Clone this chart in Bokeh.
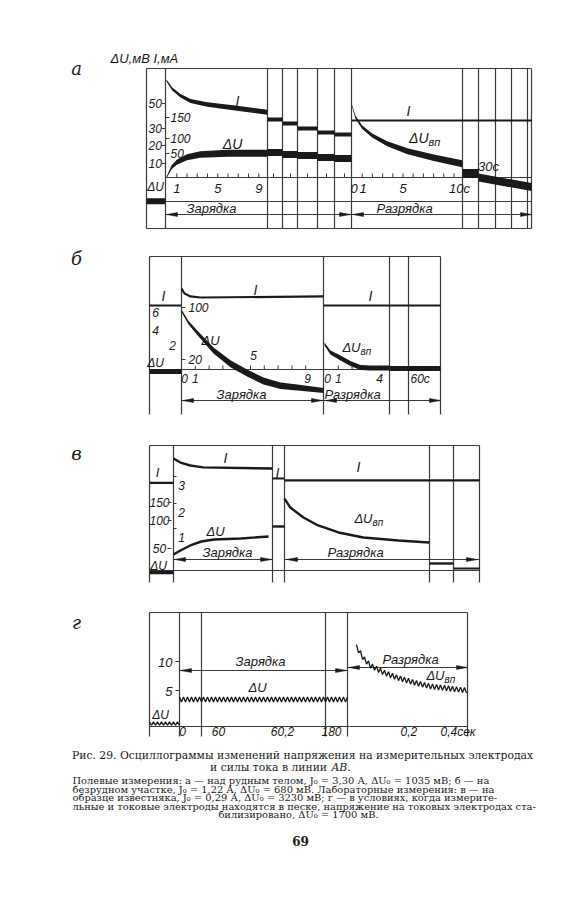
import numpy as np
from bokeh.plotting import figure
from bokeh.models import Range1d
from bokeh.core.properties import value
from bokeh.embed import file_html
from bokeh.resources import INLINE

# ================= DATA =================
# --- panel а : over the ore body ---
a_dU_ticks = [10, 20, 30, 50]            # mV (left scale)
a_I_ticks = [50, 100, 150]               # mA (second scale)
a_chg_tick_labels = [1, 5, 9]            # s
a_chg_timing = [1, 2, 3, 4, 5, 6, 7, 8, 9]
a_dis_timing = [1, 2, 3, 4, 5, 6, 7, 8, 9, 10]
a_chg_dU_t = [0, 0.5, 1.0, 2.0, 3.3, 6.0, 9.85]
a_chg_dU = [0, 7.4, 10.7, 13.5, 15.0, 15.7, 15.7]
a_chg_I_t = [0, 0.56, 1.37, 2.34, 3.97, 6.5, 9.85]
a_chg_I = [238, 218, 202, 189, 181, 173, 162.6]
a_brk_I = [145.2, 135.7, 123.8, 114.3, 109.5]
a_brk_dU = [16.1, 15.0, 14.4, 13.3, 12.8]
a_dis_t = [0, 0.34, 1.0, 1.98, 3.45, 5.44, 8.02, 10.8]
a_dis_dU = [48.4, 39.0, 31.0, 25.9, 21.0, 16.8, 13.2, 9.8]
a_dis_I = 142.9
a_gap_dU = 2.9
a_tail_t = [30, 35.2]
a_tail_dU = [0.0, -6.8]
a_ref_dU = -17.0

# --- panel б : barren section ---
b_dU_ticks = [2, 4, 6]
b_I_ticks = [20, 100]
b_chg_timing = [1, 2, 3, 4, 5, 6, 7, 8, 9]
b_dis_timing = [1, 2, 3, 4]
b_chg_dU_t = [0, 0.5, 1.16, 2.32, 3.55, 4.78, 5.94, 7.17, 8.4, 10.3]
b_chg_dU = [6.1, 4.7, 3.6, 2.0, 0.6, -0.4, -1.2, -1.7, -1.9, -2.2]
b_chg_I_t = [0, 0.22, 0.65, 1.37, 10.3]
b_chg_I = [129, 121.5, 117, 115.4, 117]
b_ref_I = 103
b_ref_dU = -0.2
b_dis_t = [0, 0.43, 1.16, 1.88, 2.6, 3.33, 4.71]
b_dis_dU = [2.6, 1.8, 1.2, 0.63, 0.2, 0.15, 0.15]
b_late_dU = 0.1
b_dis_I = 103

# --- panel в : limestone sample (sweep fraction 0..1) ---
c_dU_ticks = [50, 100, 150]
c_I_ticks = [1, 2, 3]
c_chg_t = [0, 0.07, 0.17, 0.28, 0.41, 0.68, 0.96]
c_chg_dU = [37.5, 45.8, 55.4, 62.5, 66.1, 67.9, 71.4]
c_chg_I_t = [0, 0.07, 0.17, 0.30, 1.0]
c_chg_I = [4.0, 3.85, 3.74, 3.67, 3.63]
c_ref_I = 3.1
c_ref_dU = 0
c_mid_I = 3.26
c_mid_dU = 89.3
c_dis_t = [0, 0.04, 0.13, 0.23, 0.37, 0.54, 0.78, 0.99]
c_dis_dU = [161, 136, 108.3, 91.1, 78.6, 69.6, 64.3, 60.7]
c_dis_I = 3.19
c_late_dU = [18.8, 8.3]

# --- panel г : electrodes in sand ---
g_dU_ticks = [5, 10]
g_time_labels = ["0", "60", "60,2", "180"]
g_dis_labels = [0.2, 0.4]
g_pre_dU = -0.7
g_pre_amp = 0.3
g_chg_dU = 3.45
g_chg_amp = 0.45
g_dis_t = [0, 0.02, 0.035, 0.07, 0.135, 0.205, 0.285, 0.37, 0.555]
g_dis_dU = [12.47, 11.4, 10.5, 9.3, 8.1, 7.2, 6.4, 5.7, 5.0]
g_dis_amp = 0.45
g_ripple_T = 0.02   # s (50 Hz ripple)

caption1 = "Рис. 29. Осциллограммы изменений напряжения на измерительных электродах"
caption2 = "и силы тока в линии "
caption2_it = "AB."
notes = [
    "Полевые измерения: а — над рудным телом, J₀ = 3,30 А, ΔU₀ = 1035 мВ; б — на",
    "безрудном участке, J₀ = 1,22 А, ΔU₀ = 680 мВ. Лабораторные измерения: в — на",
    "образце известняка, J₀ = 0,29 А, ΔU₀ = 3230 мВ; г — в условиях, когда измерите-",
    "льные и токовые электроды находятся в песке, напряжение на токовых электродах ста-",
]
note_last = "билизировано, ΔU₀ = 1700 мВ."
page_no = "69"

# ================= LAYOUT / STYLE =================
INK = "#1a1a1a"
LINE = "#3a3a3a"
LBL = "Liberation Sans Narrow, Liberation Sans, DejaVu Sans, sans-serif"
SERIF = "DejaVu Serif, Liberation Serif, serif"

p = figure(width=569, height=888, x_range=Range1d(0, 569), y_range=Range1d(888, 0),
           output_backend="svg", toolbar_location=None, min_border=0,
           background_fill_color="white", border_fill_color="white")
p.axis.visible = False
p.grid.visible = False
p.outline_line_color = None


def pmap(v, vals, pix):
    v = np.atleast_1d(np.asarray(v, float))
    vals = np.asarray(vals, float)
    pix = np.asarray(pix, float)
    out = np.interp(v, vals, pix)
    s0 = (pix[1] - pix[0]) / (vals[1] - vals[0])
    s1 = (pix[-1] - pix[-2]) / (vals[-1] - vals[-2])
    lo, hi = v < vals[0], v > vals[-1]
    out[lo] = pix[0] + (v[lo] - vals[0]) * s0
    out[hi] = pix[-1] + (v[hi] - vals[-1]) * s1
    return out


def band(xs, ys, w):
    xs = np.asarray(xs, float)
    ys = np.asarray(ys, float)
    w = np.asarray(w, float) * np.ones_like(ys)
    p.varea(x=xs, y1=ys - w / 2, y2=ys + w / 2, fill_color=INK)


def txt(x, y, s, size=13, align="center", font=LBL, style="italic", color=INK, baseline="middle"):
    p.text(x=[x], y=[y], text=[s], text_font=value(font), text_font_size=f"{size}px",
           text_font_style=style, text_align=align, text_baseline=baseline, text_color=color)


def sub_label(x, y, main, sub, size=13):
    txt(x, y, main, size=size, align="right")
    txt(x, y + 4, sub, size=size - 3, align="left")


def frame(left, right, top, bottom, verticals, hlines, lw=1.2):
    x0 = [left, left, right] + list(verticals)
    y0 = [top, top, top] + [top] * len(verticals)
    x1 = [right, left, right] + list(verticals)
    y1 = [top, bottom, bottom] + [bottom] * len(verticals)
    for (xa, xb, yy) in hlines:
        x0.append(xa); x1.append(xb); y0.append(yy); y1.append(yy)
    p.segment(x0=x0, y0=y0, x1=x1, y1=y1, line_color=LINE, line_width=lw)


def heads(items, L=11, hw=2.0):
    xs, ys = [], []
    for (xt, y, d) in items:
        xs.append([xt, xt - d * L, xt - d * L])
        ys.append([y, y - hw, y + hw])
    p.patches(xs=xs, ys=ys, fill_color=INK, line_color=INK, line_width=0.5)


def ticks(xs, ybase, h=4):
    xs = list(xs)
    p.segment(x0=xs, y0=[ybase] * len(xs), x1=xs, y1=[ybase - h] * len(xs), line_color=LINE, line_width=1)


# ---------------- panel а ----------------
A_dU_vals, A_dU_px = [0, 10, 20, 30, 50], [177, 163, 145, 128, 103]
A_I_vals, A_I_px = [0, 50, 100, 150], [177, 153, 138, 117]
ax_chg = lambda t: 166 + 10.25 * np.asarray(t, float)
ax_dis = lambda t: 351.5 + 10.2 * np.asarray(t, float)
ax_tail = lambda t: 478 + 10.2 * (np.asarray(t, float) - 30)
A_brk = [267, 282, 297, 317, 334, 351]

frame(146, 531, 68, 228, [165, 267, 282, 297, 317, 334, 351, 462, 478, 495, 511, 527],
      [(165, 531, 177), (146, 531, 201), (165, 531, 214), (146, 531, 228)])
ticks(ax_chg(a_chg_timing), 177)
ticks([273, 290, 307, 326, 344], 177)
ticks(ax_dis(a_dis_timing), 177)
heads([(166, 214, -1), (350, 214, 1), (352, 214, -1), (531, 214, 1)])

band(ax_chg(a_chg_I_t), pmap(a_chg_I, A_I_vals, A_I_px), [2, 3, 3.5, 4, 4.5, 5, 5])
band(ax_chg(a_chg_dU_t), pmap(a_chg_dU, A_dU_vals, A_dU_px), [1.5, 4, 5, 6, 6.5, 7, 7])
for i in range(5):
    xs = [A_brk[i], A_brk[i + 1]]
    band(xs, pmap([a_brk_I[i]] * 2, A_I_vals, A_I_px), 4)
    band(xs, pmap([a_brk_dU[i]] * 2, A_dU_vals, A_dU_px), 7)
band(ax_dis(a_dis_t), pmap(a_dis_dU, A_dU_vals, A_dU_px), [2, 3, 3.5, 4, 5, 6, 6.5, 7])
p.line(x=[351, 531], y=list(pmap([a_dis_I] * 2, A_I_vals, A_I_px)), line_color=INK, line_width=2)
band([462, 478], pmap([a_gap_dU] * 2, A_dU_vals, A_dU_px), 9)
band(ax_tail(a_tail_t), pmap(a_tail_dU, A_dU_vals, A_dU_px), 8)
band([146, 165], pmap([a_ref_dU] * 2, A_dU_vals, A_dU_px), 6)

txt(110, 58, "ΔU,мВ  I,мА", size=13, align="left")
txt(76, 68, "а", size=18, font=SERIF)
for v, y in zip(a_dU_ticks, pmap(a_dU_ticks, A_dU_vals, A_dU_px)):
    txt(148, y, str(v), size=12, align="left")
p.segment(x0=[161] * 4, y0=list(pmap(a_dU_ticks, A_dU_vals, A_dU_px)), x1=[165] * 4,
          y1=list(pmap(a_dU_ticks, A_dU_vals, A_dU_px)), line_color=LINE)
for v, y in zip(a_I_ticks, pmap(a_I_ticks, A_I_vals, A_I_px)):
    txt(170, y, str(v), size=12, align="left")
p.segment(x0=[165] * 3, y0=list(pmap(a_I_ticks, A_I_vals, A_I_px)), x1=[169] * 3,
          y1=list(pmap(a_I_ticks, A_I_vals, A_I_px)), line_color=LINE)
txt(155, 186, "ΔU", size=12)
for t in a_chg_tick_labels:
    txt(float(ax_chg(t)), 188, str(t), size=13)
txt(float(ax_dis(0)) + 2, 188, "0", size=13)
txt(float(ax_dis(1)) + 1, 188, "1", size=13)
txt(float(ax_dis(5)), 188, "5", size=13)
txt(float(ax_dis(10)) - 5, 188, "10с", size=13, align="left")
txt(488, 166, "30с", size=13)
txt(237, 100, "I", size=14)
txt(232, 143, "ΔU", size=14)
txt(408, 110, "I", size=14)
sub_label(428, 137, "ΔU", "вп", size=14)
txt(211, 208, "Зарядка", size=13)
txt(404, 208, "Разрядка", size=13)

# ---------------- panel б ----------------
B_dU_vals, B_dU_px = [0, 2, 4, 6], [369, 350, 328, 311]
B_I_vals, B_I_px = [20, 100], [359, 307]
bx_chg = lambda t: 181 + 13.8 * np.asarray(t, float)
bx_dis = lambda t: 324 + 13.8 * np.asarray(t, float)

frame(149, 440, 256, 414, [181, 323, 389, 408],
      [(181, 440, 369), (181, 440, 400)])
ticks(bx_chg(b_chg_timing), 369)
ticks(bx_dis(b_dis_timing), 369)
heads([(182, 400, -1), (322, 400, 1), (325, 400, -1), (440, 400, 1)])

yI = pmap([b_ref_I] * 2, B_I_vals, B_I_px)
p.line(x=[149, 181], y=list(yI), line_color=INK, line_width=2)
p.line(x=[323, 440], y=list(pmap([b_dis_I] * 2, B_I_vals, B_I_px)), line_color=INK, line_width=2)
p.line(x=list(bx_chg(b_chg_I_t)), y=list(pmap(b_chg_I, B_I_vals, B_I_px)), line_color=INK, line_width=2.2)
band([149, 181], pmap([b_ref_dU] * 2, B_dU_vals, B_dU_px), 5)
band(bx_chg(b_chg_dU_t), pmap(b_chg_dU, B_dU_vals, B_dU_px), [2.5, 3.5, 4.5, 6, 7, 7, 7, 6.5, 6, 5])
band(bx_dis(b_dis_t), pmap(b_dis_dU, B_dU_vals, B_dU_px), [3, 4, 5, 5, 5, 5, 5])
band([389, 440], pmap([b_late_dU] * 2, B_dU_vals, B_dU_px), 5)

txt(76, 258, "б", size=18, font=SERIF)
txt(163, 295, "I", size=14)
txt(155, 312, "6", size=12)
txt(155, 330, "4", size=12)
txt(172, 345, "2", size=12)
txt(155, 362, "ΔU", size=12)
for v in b_I_ticks:
    y = float(pmap([v], B_I_vals, B_I_px)[0])
    txt(188, y, str(v), size=12, align="left")
    p.segment(x0=[181], y0=[y], x1=[185], y1=[y], line_color=LINE)
txt(184, 378, "0", size=12)
txt(float(bx_chg(1)), 378, "1", size=12)
txt(float(bx_chg(5)) + 3, 355, "5", size=12)
txt(float(bx_chg(9)) + 2, 378, "9", size=12)
txt(327, 378, "0", size=12)
txt(float(bx_dis(1)), 378, "1", size=12)
txt(float(bx_dis(4)), 378, "4", size=12)
txt(410, 378, "60с", size=12, align="left")
txt(255, 289, "I", size=14)
txt(210, 340, "ΔU", size=13)
txt(370, 295, "I", size=14)
sub_label(360, 347, "ΔU", "вп", size=13)
txt(241, 394, "Зарядка", size=13)
txt(352, 394, "Разрядка", size=13)

# ---------------- panel в ----------------
C_dU_vals, C_dU_px = [0, 50, 100, 150], [572, 548, 520, 502]
C_I_vals, C_I_px = [1, 2, 3], [537, 512, 485]
cx_chg = lambda f: 173 + 99 * np.asarray(f, float)
cx_dis = lambda f: 284 + 146 * np.asarray(f, float)

frame(149, 479, 445, 582, [173, 272, 284, 429, 453],
      [(149, 479, 570), (173, 272, 559), (284, 479, 559)])
heads([(174, 559, -1), (271, 559, 1), (286, 559, -1), (477, 559, 1)])

p.line(x=[149, 173], y=list(pmap([c_ref_I] * 2, C_I_vals, C_I_px)), line_color=INK, line_width=2.2)
band([149, 173], pmap([c_ref_dU] * 2, C_dU_vals, C_dU_px), 3.5)
p.line(x=list(cx_chg(c_chg_I_t)), y=list(pmap(c_chg_I, C_I_vals, C_I_px)), line_color=INK, line_width=2.4)
p.line(x=list(cx_chg(c_chg_t)), y=list(pmap(c_chg_dU, C_dU_vals, C_dU_px)), line_color=INK, line_width=2.4)
p.line(x=[272, 284], y=list(pmap([c_mid_I] * 2, C_I_vals, C_I_px)), line_color=INK, line_width=2)
p.line(x=[272, 284], y=list(pmap([c_mid_dU] * 2, C_dU_vals, C_dU_px)), line_color=INK, line_width=2.4)
p.line(x=[284, 479], y=list(pmap([c_dis_I] * 2, C_I_vals, C_I_px)), line_color=INK, line_width=2.4)
p.line(x=list(cx_dis(c_dis_t)), y=list(pmap(c_dis_dU, C_dU_vals, C_dU_px)), line_color=INK, line_width=2.4)
p.line(x=[429, 453], y=list(pmap([c_late_dU[0]] * 2, C_dU_vals, C_dU_px)), line_color=INK, line_width=2.4)
p.line(x=[453, 479], y=list(pmap([c_late_dU[1]] * 2, C_dU_vals, C_dU_px)), line_color=INK, line_width=2)

txt(76, 453, "в", size=18, font=SERIF, style="italic")
txt(157, 472, "I", size=13)
for v in c_dU_ticks:
    y = float(pmap([v], C_dU_vals, C_dU_px)[0])
    txt(159, y, str(v), size=12)
    p.segment(x0=[167], y0=[y], x1=[171], y1=[y], line_color=LINE)
for v in c_I_ticks:
    y = float(pmap([v], C_I_vals, C_I_px)[0])
    txt(181, y, str(v), size=12)
    p.segment(x0=[173], y0=[y - 9], x1=[176], y1=[y - 9], line_color=LINE)
txt(158, 565, "ΔU", size=12)
txt(225, 457, "I", size=14)
txt(215, 531, "ΔU", size=13)
txt(227, 552, "Зарядка", size=13)
txt(277, 472, "I", size=14)
txt(358, 466, "I", size=14)
sub_label(372, 518, "ΔU", "вп", size=13)
txt(355, 552, "Разрядка", size=13)

# ---------------- panel г ----------------
G_vals, G_px = [0, 5, 10], [719, 690, 661]
gx_chg = lambda t: 179 + 200 * np.asarray(t, float)
gx_dis = lambda t: 356 + 200 * np.asarray(t, float)
gx_pre = lambda t: 149 + 200 * np.asarray(t, float)


def ripple(t0, t1, trend_t, trend_v, amp, T):
    tt = np.arange(t0, t1 + 1e-9, T / 2)
    base = np.interp(tt, trend_t, trend_v)
    sign = np.where(np.arange(len(tt)) % 2 == 0, 1.0, -1.0)
    return tt, base + amp * sign


frame(149, 467, 612, 736, [179, 201, 325, 347],
      [(149, 467, 726), (179, 347, 670), (347, 467, 667)])
heads([(180, 670, -1), (346, 670, 1), (348, 667, -1), (467, 667, 1)])

tt, vv = ripple(0, 0.15, [0, 0.15], [g_pre_dU, g_pre_dU], g_pre_amp, g_ripple_T)
p.line(x=list(gx_pre(tt)), y=list(pmap(vv, G_vals, G_px)), line_color=INK, line_width=1.3)
tt, vv = ripple(0, 0.84, [0, 0.84], [g_chg_dU, g_chg_dU], g_chg_amp, g_ripple_T)
p.line(x=list(gx_chg(tt)), y=list(pmap(vv, G_vals, G_px)), line_color=INK, line_width=1.3)
tt, vv = ripple(0, g_dis_t[-1], g_dis_t, g_dis_dU, g_dis_amp, g_ripple_T)
p.line(x=list(gx_dis(tt)), y=list(pmap(vv, G_vals, G_px)), line_color=INK, line_width=1.3)

txt(76, 622, "г", size=18, font=SERIF)
for v in g_dU_ticks:
    y = float(pmap([v], G_vals, G_px)[0])
    txt(172, y + 1, str(v), size=13, align="right")
    p.segment(x0=[175], y0=[y], x1=[179], y1=[y], line_color=LINE)
txt(160, 714, "ΔU", size=12)
for s, x in zip(g_time_labels, [182, 218, 282, 331]):
    txt(x, 731, s, size=12)
for t in g_dis_labels:
    lab = ("%.1f" % t).replace(".", ",") + ("сек" if t == g_dis_labels[-1] else "")
    txt(float(gx_dis(t)) + 4, 731, lab, size=12, align="left")
txt(260, 661, "Зарядка", size=13)
txt(257, 687, "ΔU", size=13)
txt(410, 659, "Разрядка", size=13)
sub_label(444, 675, "ΔU", "вп", size=13)

# ---------------- caption ----------------
txt(302, 755, caption1, size=10.8, font=SERIF, style="normal")
txt(330, 767, caption2, size=10.8, font=SERIF, style="normal", align="right")
txt(331, 767, caption2_it, size=10.8, font=SERIF, style="italic", align="left")
for i, s in enumerate(notes):
    txt(72, 780 + 8.6 * i, s, size=9.9, font=SERIF, style="normal", align="left")
txt(298, 814, note_last, size=9.9, font=SERIF, style="normal")
txt(300, 840, page_no, size=12, font=SERIF, style="bold")

open("out.html", "w").write(file_html(p, INLINE))
